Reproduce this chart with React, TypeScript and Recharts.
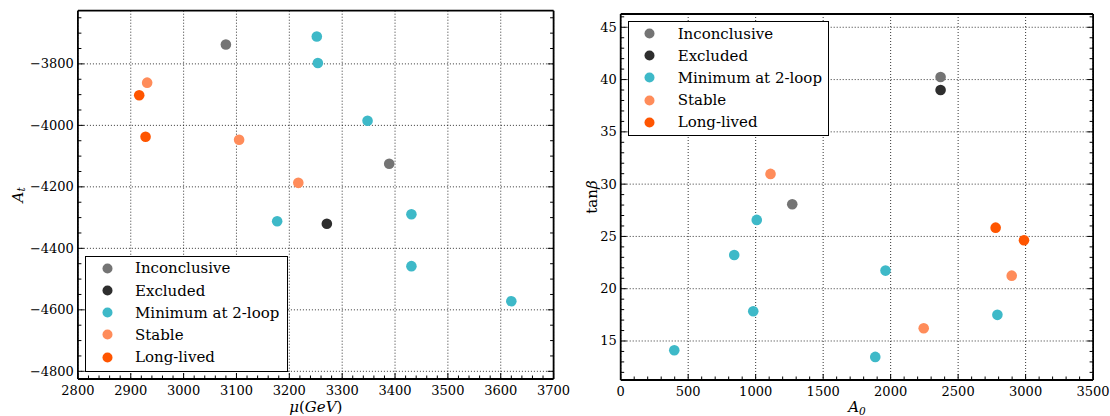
import React from 'react';
import { ScatterChart, Scatter, XAxis, YAxis, CartesianGrid, Legend, Label } from 'recharts';

const FONT = '"DejaVu Serif", serif';

// ---------- categories ----------
const categories = ['Inconclusive', 'Excluded', 'Minimum at 2-loop', 'Stable', 'Long-lived'];
const categoryColors = ['#747474', '#2e2e2e', '#3eb9c8', '#ff8c5a', '#ff5500'];

// ---------- left panel: mu (GeV) vs A_t ----------
const muAtInconclusive = [{ x: 3080, y: -3737 }, { x: 3389, y: -4125 }];
const muAtExcluded = [{ x: 3271, y: -4320 }];
const muAtMinimum2Loop = [
  { x: 3252, y: -3711 }, { x: 3254, y: -3797 }, { x: 3348, y: -3985 },
  { x: 3177, y: -4312 }, { x: 3431, y: -4289 }, { x: 3431, y: -4458 }, { x: 3620, y: -4572 },
];
const muAtStable = [{ x: 2931, y: -3861 }, { x: 3105, y: -4047 }, { x: 3217, y: -4187 }];
const muAtLongLived = [{ x: 2916, y: -3902 }, { x: 2928, y: -4037 }];

const muMajorTicks = [2800, 2900, 3000, 3100, 3200, 3300, 3400, 3500, 3600, 3700];
const atMajorTicks = [-4800, -4600, -4400, -4200, -4000, -3800];
const muDomain = [2800, 3700];
const atDomain = [-4825, -3627];

// ---------- right panel: A_0 vs tan(beta) ----------
const a0TbInconclusive = [{ x: 2370, y: 40.25 }, { x: 1271, y: 28.08 }];
const a0TbExcluded = [{ x: 2370, y: 39.0 }];
const a0TbMinimum2Loop = [
  { x: 1008, y: 26.58 }, { x: 841, y: 23.23 }, { x: 1962, y: 21.73 }, { x: 982, y: 17.85 },
  { x: 397, y: 14.12 }, { x: 1886, y: 13.48 }, { x: 2791, y: 17.5 },
];
const a0TbStable = [{ x: 1110, y: 30.98 }, { x: 2245, y: 16.22 }, { x: 2897, y: 21.25 }];
const a0TbLongLived = [{ x: 2778, y: 25.84 }, { x: 2988, y: 24.64 }];

const a0MajorTicks = [0, 500, 1000, 1500, 2000, 2500, 3000, 3500];
const tbMajorTicks = [15, 20, 25, 30, 35, 40, 45];
const a0Domain = [0, 3500];
const tbDomain = [11.27, 46.27];

// minor tick positions (axis decoration, not data)
const steps = (a: number, b: number, s: number) => {
  const r: number[] = [];
  for (let i = 0; a + i * s <= b + 1e-9; i++) r.push(Math.round((a + i * s) * 1000) / 1000);
  return r;
};
const muAllTicks = steps(2800, 3700, 20);
const atAllTicks = steps(-4800, -3650, 50);
const a0AllTicks = steps(0, 3500, 100);
const tbAllTicks = steps(12, 46, 1);

const leftSeries = [muAtInconclusive, muAtExcluded, muAtMinimum2Loop, muAtStable, muAtLongLived];
const rightSeries = [a0TbInconclusive, a0TbExcluded, a0TbMinimum2Loop, a0TbStable, a0TbLongLived];

const fmtMinus = (v: number) => String(v).replace('-', '\u2212');

type Orient = 'bottom' | 'top' | 'left' | 'right';

const TICK_FONT = 13;

const makeTick = (orient: Orient, majors: number[], fmt?: (v: number) => string) => (props: any) => {
  const { x, y, payload } = props;
  const v = payload.value;
  const major = majors.some((m) => Math.abs(m - v) < 1e-6);
  const len = major ? 6 : 3.5;
  let x2 = x, y2 = y;
  if (orient === 'bottom') y2 = y - len;
  if (orient === 'top') y2 = y + len;
  if (orient === 'left') x2 = x + len;
  if (orient === 'right') x2 = x - len;
  let label = null;
  if (fmt && major) {
    if (orient === 'bottom') {
      label = (
        <text x={x} y={y + 16} textAnchor="middle" fontFamily={FONT} fontSize={TICK_FONT} fill="#000">
          {fmt(v)}
        </text>
      );
    } else if (orient === 'left') {
      label = (
        <text x={x - 4} y={y} textAnchor="end" dominantBaseline="central" fontFamily={FONT} fontSize={TICK_FONT} fill="#000">
          {fmt(v)}
        </text>
      );
    }
  }
  return (
    <g>
      <line x1={x} y1={y} x2={x2} y2={y2} stroke="#000" strokeWidth={1} />
      {label}
    </g>
  );
};

const makeLegend = (w: number, h: number) => (props: any) => {
  const payload = [...(props.payload || [])].sort(
    (a: any, b: any) => categories.indexOf(a.value) - categories.indexOf(b.value)
  );
  return (
    <div
      style={{
        position: 'relative', width: w, height: h, border: '1px solid #000', background: '#fff',
        boxSizing: 'border-box', fontFamily: FONT, fontSize: 15, color: '#000',
      }}
    >
      {payload.map((p: any, i: number) => (
        <div key={i} style={{ position: 'absolute', left: 0, top: 11.3 + i * 22.2 - 11, height: 22, width: '100%' }}>
          <svg style={{ position: 'absolute', left: 15.5, top: 5.5 }} width={11} height={11}>
            <circle cx={5.5} cy={5.5} r={5} fill={p.color} />
          </svg>
          <span style={{ position: 'absolute', left: 49, top: 0, lineHeight: '22px', whiteSpace: 'nowrap' }}>{p.value}</span>
        </div>
      ))}
    </div>
  );
};

type PanelProps = {
  width: number;
  height: number;
  margin: { top: number; right: number; bottom: number; left: number };
  yAxisW: number;
  xAxisH: number;
  xDomain: number[];
  yDomain: number[];
  xTicks: number[];
  xMajor: number[];
  yTicks: number[];
  yMajor: number[];
  yFmt: (v: number) => string;
  series: { x: number; y: number }[][];
  legendPos: { left: number; top: number; width: number; height: number };
  xLabel: React.ReactNode;
  yLabel: React.ReactNode;
  yLabelX: number;
};

const Panel = (p: PanelProps) => {
  const plotLeft = p.margin.left + p.yAxisW;
  const plotRight = p.width - p.margin.right - 1;
  const plotTop = p.margin.top + 1;
  const plotBottom = p.height - p.margin.bottom - p.xAxisH;
  const cx = (plotLeft + plotRight) / 2;
  const cy = (plotTop + plotBottom) / 2;
  return (
    <ScatterChart width={p.width} height={p.height} margin={p.margin}>
      <CartesianGrid
        verticalValues={p.xMajor}
        horizontalValues={p.yMajor}
        stroke="#000"
        strokeWidth={0.8}
        strokeDasharray="1 2"
      />
      <XAxis
        type="number"
        dataKey="x"
        domain={p.xDomain}
        allowDataOverflow
        ticks={p.xTicks}
        interval={0}
        height={p.xAxisH}
        tickLine={false}
        tickSize={0}
        tickMargin={0}
        tick={makeTick('bottom', p.xMajor, (v) => String(v))}
        axisLine={{ stroke: '#000', strokeWidth: 1.8 }}
      >
        <Label
          content={() => (
            <text x={cx} y={412} textAnchor="middle" fontFamily={FONT} fontSize={15} fill="#000">
              {p.xLabel}
            </text>
          )}
        />
      </XAxis>
      <XAxis
        xAxisId="top"
        orientation="top"
        type="number"
        domain={p.xDomain}
        allowDataOverflow
        ticks={p.xTicks}
        interval={0}
        height={1}
        tickLine={false}
        tickSize={0}
        tickMargin={0}
        tick={makeTick('top', p.xMajor)}
        axisLine={{ stroke: '#000', strokeWidth: 1.8 }}
      />
      <YAxis
        type="number"
        dataKey="y"
        domain={p.yDomain}
        allowDataOverflow
        ticks={p.yTicks}
        interval={0}
        width={p.yAxisW}
        tickLine={false}
        tickSize={0}
        tickMargin={0}
        tick={makeTick('left', p.yMajor, p.yFmt)}
        axisLine={{ stroke: '#000', strokeWidth: 1.8 }}
      >
        <Label
          content={() => (
            <text
              transform={`translate(${p.yLabelX},${cy}) rotate(-90)`}
              textAnchor="middle"
              dominantBaseline="central"
              fontFamily={FONT}
              fontSize={15}
              fill="#000"
            >
              {p.yLabel}
            </text>
          )}
        />
      </YAxis>
      <YAxis
        yAxisId="right"
        orientation="right"
        type="number"
        domain={p.yDomain}
        allowDataOverflow
        ticks={p.yTicks}
        interval={0}
        width={1}
        tickLine={false}
        tickSize={0}
        tickMargin={0}
        tick={makeTick('right', p.yMajor)}
        axisLine={{ stroke: '#000', strokeWidth: 1.8 }}
      />
      {p.series.map((data, i) => (
        <Scatter
          key={categories[i]}
          name={categories[i]}
          data={data}
          fill={categoryColors[i]}
          legendType="circle"
          isAnimationActive={false}
          shape={(sp: any) => <circle cx={sp.cx} cy={sp.cy} r={5.3} fill={categoryColors[i]} />}
        />
      ))}
      <Legend
        layout="vertical"
        align="center"
        verticalAlign="middle"
        wrapperStyle={{ left: p.legendPos.left, top: p.legendPos.top, width: p.legendPos.width, height: p.legendPos.height }}
        content={makeLegend(p.legendPos.width, p.legendPos.height)}
      />
    </ScatterChart>
  );
};

export default function App() {
  return (
    <div style={{ position: 'absolute', left: 0, top: 0, width: 1110, height: 416, background: '#fff', overflow: 'hidden' }}>
      <div style={{ position: 'absolute', left: 0, top: 0 }}>
        <Panel
          width={580}
          height={416}
          margin={{ top: 9.7, right: 25.4, bottom: 0, left: 0 }}
          yAxisW={77.9}
          xAxisH={37}
          xDomain={muDomain}
          yDomain={atDomain}
          xTicks={muAllTicks}
          xMajor={muMajorTicks}
          yTicks={atAllTicks}
          yMajor={atMajorTicks}
          yFmt={fmtMinus}
          series={leftSeries}
          legendPos={{ left: 85, top: 256, width: 203, height: 116 }}
          xLabel={
            <>
              <tspan fontStyle="italic">μ</tspan>
              <tspan>(</tspan>
              <tspan fontStyle="italic">GeV</tspan>
              <tspan>)</tspan>
            </>
          }
          yLabel={
            <>
              <tspan fontStyle="italic">A</tspan>
              <tspan fontStyle="italic" fontSize={10.5} dy={3}>t</tspan>
            </>
          }
          yLabelX={18}
        />
      </div>
      <div style={{ position: 'absolute', left: 560, top: 0 }}>
        <Panel
          width={550}
          height={416}
          margin={{ top: 13, right: 15.9, bottom: 0, left: 0 }}
          yAxisW={60.7}
          xAxisH={36}
          xDomain={a0Domain}
          yDomain={tbDomain}
          xTicks={a0AllTicks}
          xMajor={a0MajorTicks}
          yTicks={tbAllTicks}
          yMajor={tbMajorTicks}
          yFmt={(v) => String(v)}
          series={rightSeries}
          legendPos={{ left: 67.7, top: 21.3, width: 201, height: 115 }}
          xLabel={
            <>
              <tspan fontStyle="italic">A</tspan>
              <tspan fontStyle="italic" fontSize={10.5} dy={3}>0</tspan>
            </>
          }
          yLabel={
            <>
              <tspan>tan</tspan>
              <tspan fontStyle="italic">β</tspan>
            </>
          }
          yLabelX={31.7}
        />
      </div>
    </div>
  );
}
